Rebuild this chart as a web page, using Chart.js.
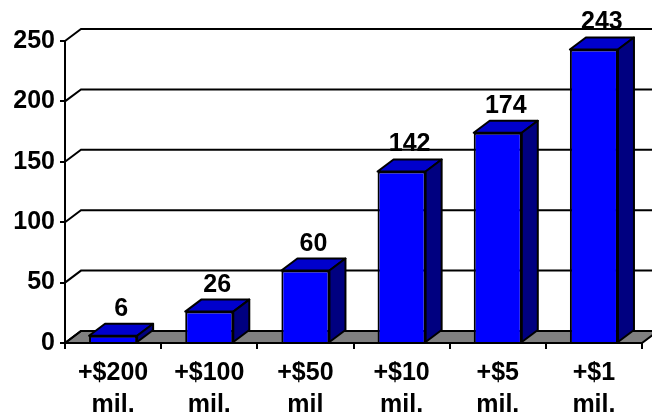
<!DOCTYPE html>
<html lang="en">
<head>
<meta charset="UTF-8"/>
<script src="https://cdn.jsdelivr.net/npm/chart.js@4.4.0/dist/chart.umd.min.js"></script>
<style>
  body { margin: 0; background: #fff; }
  #chart { display: block; }
</style>
</head>
<body>
<canvas id="chart" width="652" height="418"></canvas>
<script>
// data
const labels = [['+$200', 'mil.'], ['+$100', 'mil.'], ['+$50', 'mil'], ['+$10', 'mil.'], ['+$5', 'mil.'], ['+$1', 'mil.']];
const values = [6, 26, 60, 142, 174, 243];
const yTicks = [0, 50, 100, 150, 200, 250];

const depthX = 16;
const depthY = 12;
const font = {family: "'Liberation Sans', Arial, sans-serif", size: 25, weight: 'bold', lineHeight: 1.28};

// fake 3d: floor, back wall lines, bar tops and sides
const box3d = {
    id: 'box3d',
    beforeDatasetsDraw(chart) {
        const ctx = chart.ctx;
        const a = chart.chartArea;
        const y = chart.scales.y;
        ctx.save();
        ctx.lineWidth = 2;
        ctx.strokeStyle = '#000';

        ctx.beginPath();
        ctx.moveTo(a.left, a.bottom);
        ctx.lineTo(a.right, a.bottom);
        ctx.lineTo(a.right + depthX, a.bottom - depthY);
        ctx.lineTo(a.left + depthX, a.bottom - depthY);
        ctx.closePath();
        ctx.fillStyle = '#808080';
        ctx.fill();
        ctx.stroke();

        yTicks.forEach(v => {
            const py = y.getPixelForValue(v);
            ctx.beginPath();
            ctx.moveTo(a.left, py);
            ctx.lineTo(a.left + depthX, py - depthY);
            ctx.lineTo(chart.width, py - depthY);
            ctx.stroke();
        });
        ctx.restore();
    },
    afterDatasetsDraw(chart) {
        const ctx = chart.ctx;
        const meta = chart.getDatasetMeta(0);
        ctx.save();
        ctx.lineWidth = 2;
        ctx.strokeStyle = '#000';
        ctx.lineJoin = 'round';
        meta.data.forEach((bar, i) => {
            const p = bar.getProps(['x', 'y', 'base', 'width'], true);
            const left = p.x - p.width / 2;
            const right = p.x + p.width / 2;

            // top face
            ctx.beginPath();
            ctx.moveTo(left, p.y);
            ctx.lineTo(left + depthX, p.y - depthY);
            ctx.lineTo(right + depthX, p.y - depthY);
            ctx.lineTo(right, p.y);
            ctx.closePath();
            ctx.fillStyle = '#0000CC';
            ctx.fill();
            ctx.stroke();

            // side face
            ctx.beginPath();
            ctx.moveTo(right, p.y);
            ctx.lineTo(right + depthX, p.y - depthY);
            ctx.lineTo(right + depthX, p.base - depthY);
            ctx.lineTo(right, p.base);
            ctx.closePath();
            ctx.fillStyle = '#000080';
            ctx.fill();
            ctx.stroke();

            // value label
            ctx.fillStyle = '#000';
            ctx.font = 'bold 25px ' + font.family;
            ctx.textAlign = 'center';
            ctx.textBaseline = 'alphabetic';
            ctx.fillText(String(values[i]), p.x + depthX / 2, p.y - depthY - 8);
        });
        ctx.restore();
    }
};

const ctx = document.getElementById('chart').getContext('2d');
const chart = new Chart(ctx, {
    type: 'bar',
    data: {
        labels: labels,
        datasets: [{
            data: values,
            backgroundColor: '#0000FF',
            borderColor: '#000',
            borderWidth: 2,
            categoryPercentage: 1,
            barPercentage: 0.5
        }]
    },
    options: {
        responsive: false,
        animation: false,
        layout: {padding: {top: 41, right: 10, left: 0, bottom: 0}},
        plugins: {legend: {display: false}, tooltip: {enabled: false}},
        scales: {
            x: {
                grid: {offset: true, drawOnChartArea: false, tickLength: 6, color: '#000', lineWidth: 2},
                border: {display: true, color: '#000', width: 2},
                ticks: {font: font, color: '#000', padding: 8, maxRotation: 0, autoSkip: false},
                afterFit(s) { s.height = 75; }
            },
            y: {
                min: 0,
                max: 250,
                afterBuildTicks(s) { s.ticks = yTicks.map(v => ({value: v})); },
                ticks: {font: font, color: '#000', padding: 5},
                grid: {drawOnChartArea: false, tickLength: 5, color: '#000', lineWidth: 2},
                border: {display: true, color: '#000', width: 2},
                afterFit(s) { s.width = 65; }
            }
        }
    },
    plugins: [box3d]
});
</script>
</body>
</html>
